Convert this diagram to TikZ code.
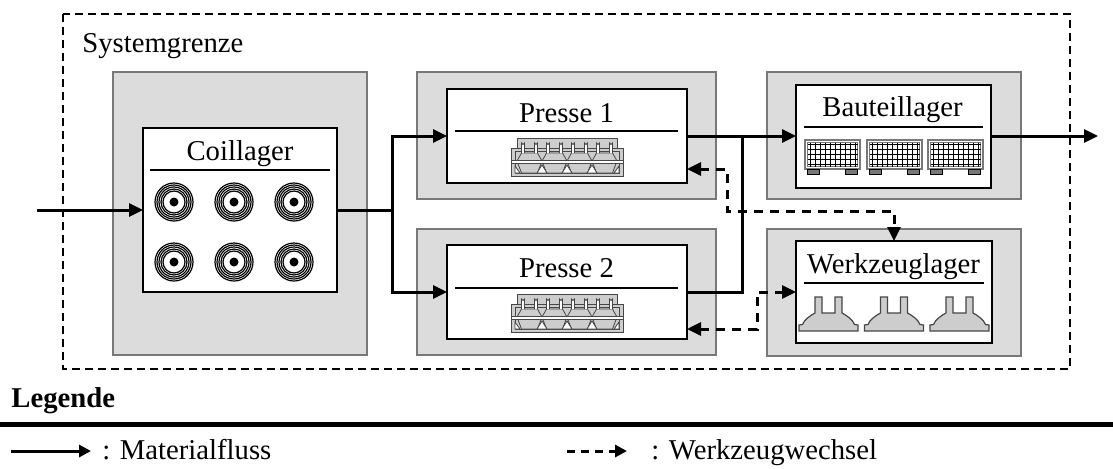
\documentclass[tikz,border=0pt]{standalone}
\usepackage{fontspec}
\setmainfont{Liberation Serif}
\usetikzlibrary{arrows.meta}

\definecolor{boxgray}{RGB}{220,220,220}
\definecolor{framegray}{RGB}{120,120,120}
\definecolor{icongray}{RGB}{205,205,205}
\definecolor{icondark}{RGB}{70,70,70}

\tikzset{
	bgbox/.style={draw=framegray, fill=boxgray, line width=0.7pt, inner sep=0pt, outer sep=0pt},
	stationbox/.style={draw=black, fill=white, line width=1pt, inner sep=0pt, outer sep=0pt},
	title/.style={inner sep=0pt, anchor=base, font=\fontsize{14.35}{17}\selectfont},
	separator/.style={line width=1pt},
	flow/.style={line width=1.5pt, -{Triangle[length=7pt, width=6.5pt]}},
	flowline/.style={line width=1.5pt},
	toolchange/.style={line width=1.5pt, dash pattern=on 4.5pt off 3.5pt, {Triangle[length=7pt, width=6.5pt]}-{Triangle[length=7pt, width=6.5pt]}},
}

\newcommand{\coilicon}[1]{%
	\begin{scope}[shift={#1}]
		\foreach \r in {19,17,15,13,11}
			\draw[line width=0.6pt] (0,0) circle[radius=\r];
		\fill (0,0) circle[radius=4.5];
	\end{scope}}

\newcommand{\pressicon}[1]{%
	\begin{scope}[shift={#1}, draw=icondark, line width=0.4pt]
		\filldraw[fill=icongray] (-50,-19) rectangle (50,-9);
		\filldraw[fill=icongray] (-56,-9) rectangle (56,19);
		\draw (-52,-6) rectangle (52,16);
		\foreach \b in {-37.5,-12.5,12.5,37.5} {
			\filldraw[fill=icongray] (\b-8,-4) -- (\b+8,-4) -- (\b+12.5,4) -- (\b+8,16) -- (\b-8,16) -- (\b-12.5,4) -- cycle;
			\filldraw[fill=white] (\b-8,-4) -- (\b-8,-14) arc[start angle=180, end angle=0, radius=1.5] -- (\b-5,-4);
			\filldraw[fill=white] (\b+5,-4) -- (\b+5,-14) arc[start angle=180, end angle=0, radius=1.5] -- (\b+8,-4);
		}
		\foreach \t in {-25,0,25}
			\filldraw[fill=white] (\t-5,16) -- (\t,8) -- (\t+5,16) -- cycle;
		\filldraw[fill=white] (-52,9) -- (-47,16) -- (-52,16) -- cycle;
		\filldraw[fill=white] (52,9) -- (47,16) -- (52,16) -- cycle;
		\filldraw[fill=white] (-56,3) rectangle (56,6);
	\end{scope}}

\newcommand{\cageicon}[1]{%
	\begin{scope}[shift={#1}]
		\filldraw[fill=white, draw=framegray, line width=0.7pt] (-27.5,-14.5) rectangle (27.5,14.5);
		\draw[framegray, line width=0.4pt] (-25,-12) rectangle (25,12);
		\foreach \gx in {-22.5,-17.5,...,22.5}
			\draw[line width=0.35pt] (\gx,-12) -- (\gx,12);
		\foreach \gy in {-10,-5,...,10}
			\draw[line width=0.35pt] (-25,\gy) -- (25,\gy);
		\filldraw[fill=framegray, draw=black, line width=0.4pt] (-25.5,14.5) rectangle (-13.5,19.5);
		\filldraw[fill=framegray, draw=black, line width=0.4pt] (12.5,14.5) rectangle (24.5,19.5);
	\end{scope}}

\newcommand{\toolicon}[1]{%
	\begin{scope}[shift={#1}]
		\filldraw[fill=icongray, draw=icondark, line width=0.6pt]
			(-13.5,0) -- (-6.5,0) -- (-6.5,16) -- (6.5,16) -- (6.5,0) -- (13.5,0) -- (13.5,16)
			-- (17,18) -- (21,21) -- (24,24) -- (26,27.5) -- (29.5,28) -- (29.5,34)
			-- (-29.5,34) -- (-29.5,28) -- (-26,27.5) -- (-24,24) -- (-21,21) -- (-17,18) -- (-13.5,16) -- cycle;
	\end{scope}}

\begin{document}
\begin{tikzpicture}[x=0.5pt, y=-0.5pt]
	\useasboundingbox (0,0) rectangle (1113,468);

	% system boundary
	\draw[line width=0.8pt, dash pattern=on 4pt off 2.5pt] (63,14) rectangle (1070,369);
	\node[title, anchor=base west] (sysname) at (82,52) {Systemgrenze};

	% grey frames
	\node[bgbox, minimum width=127pt, minimum height=141.5pt] (coilbg) at (240,213.5) {};
	\node[bgbox, minimum width=149.5pt, minimum height=63.5pt] (p1bg) at (566.5,135.5) {};
	\node[bgbox, minimum width=149.5pt, minimum height=63pt] (p2bg) at (566.5,292) {};
	\node[bgbox, minimum width=127pt, minimum height=63.5pt] (btbg) at (894,135.5) {};
	\node[bgbox, minimum width=127pt, minimum height=63.5pt] (wzbg) at (894,292.5) {};

	% stations
	\node[stationbox, minimum width=97pt, minimum height=82pt] (coil) at (240,210) {};
	\node[stationbox, minimum width=120pt, minimum height=47pt] (p1) at (567,136) {};
	\node[stationbox, minimum width=120pt, minimum height=47pt] (p2) at (567,292) {};
	\node[stationbox, minimum width=97.5pt, minimum height=51.5pt] (bt) at (893.5,136) {};
	\node[stationbox, minimum width=98pt, minimum height=51pt] (wz) at (894,292) {};

	\node[title] (coiltitle) at (240,160) {Coillager};
	\node[title] (p1title) at (566.5,122) {Presse 1};
	\node[title] (p2title) at (566.5,277) {Presse 2};
	\node[title] (bttitle) at (892.5,116) {Bauteillager};
	\node[title] (wztitle) at (893.5,273) {Werkzeuglager};

	\draw[separator] (150,170) -- (330,170);
	\draw[separator] (455,131) -- (678,131);
	\draw[separator] (455,288) -- (678,288);
	\draw[separator] (804,127) -- (983,127);
	\draw[separator] (804,283) -- (984,283);

	% icons
	\foreach \cx in {174,234,294} {
		\foreach \cy in {202,262} {
			\coilicon{(\cx,\cy)}
		}
	}
	\pressicon{(567,157)}
	\pressicon{(567,313)}
	\foreach \cx in {832.5,894.5,955.5} {
		\cageicon{(\cx,154.5)}
	}
	\foreach \cx in {828.5,894,959.5} {
		\toolicon{(\cx,297)}
	}

	% material flow
	\coordinate (in) at (37,210);
	\coordinate (split) at (392,210);
	\coordinate (join) at (742,136);
	\coordinate (out) at (1098,136);
	\draw[flow] (in) -- (coil);
	\draw[flowline] (coil.east) -- (split);
	\draw[flow] (split) |- (p1);
	\draw[flow] (split) |- (p2);
	\draw[flow] (p1.east) -- (bt.west);
	\draw[flowline] (p2.east) -| (join);
	\draw[flow] (bt.east) -- (out);

	% tool change
	\draw[toolchange] ([yshift=-16.5pt]p1.east) -- ++(40,0) -- ++(0,42) -| (wz.north);
	\draw[toolchange] ([yshift=-18.5pt]p2.east) -- ++(70,0) |- (wz.west);

	% legend
	\node[title, anchor=base west, font=\fontsize{14.35}{17}\selectfont\bfseries] (legtitle) at (11,407) {Legende};
	\draw[line width=2.5pt] (0,424) -- (1113,424);
	\coordinate (lsa) at (11,451);
	\coordinate (lsb) at (91,451);
	\coordinate (lda) at (567,451);
	\coordinate (ldb) at (627,451);
	\draw[line width=1.5pt, -{Triangle[length=6pt, width=6pt]}] (lsa) -- (lsb);
	\draw[line width=1.5pt, dash pattern=on 4pt off 3pt, -{Triangle[length=6pt, width=6pt]}] (lda) -- (ldb);
	\node[title, anchor=base west] (legflow) at (102,459) {: Materialfluss};
	\node[title, anchor=base west] (legchange) at (651,459) {: Werkzeugwechsel};
\end{tikzpicture}
\end{document}
